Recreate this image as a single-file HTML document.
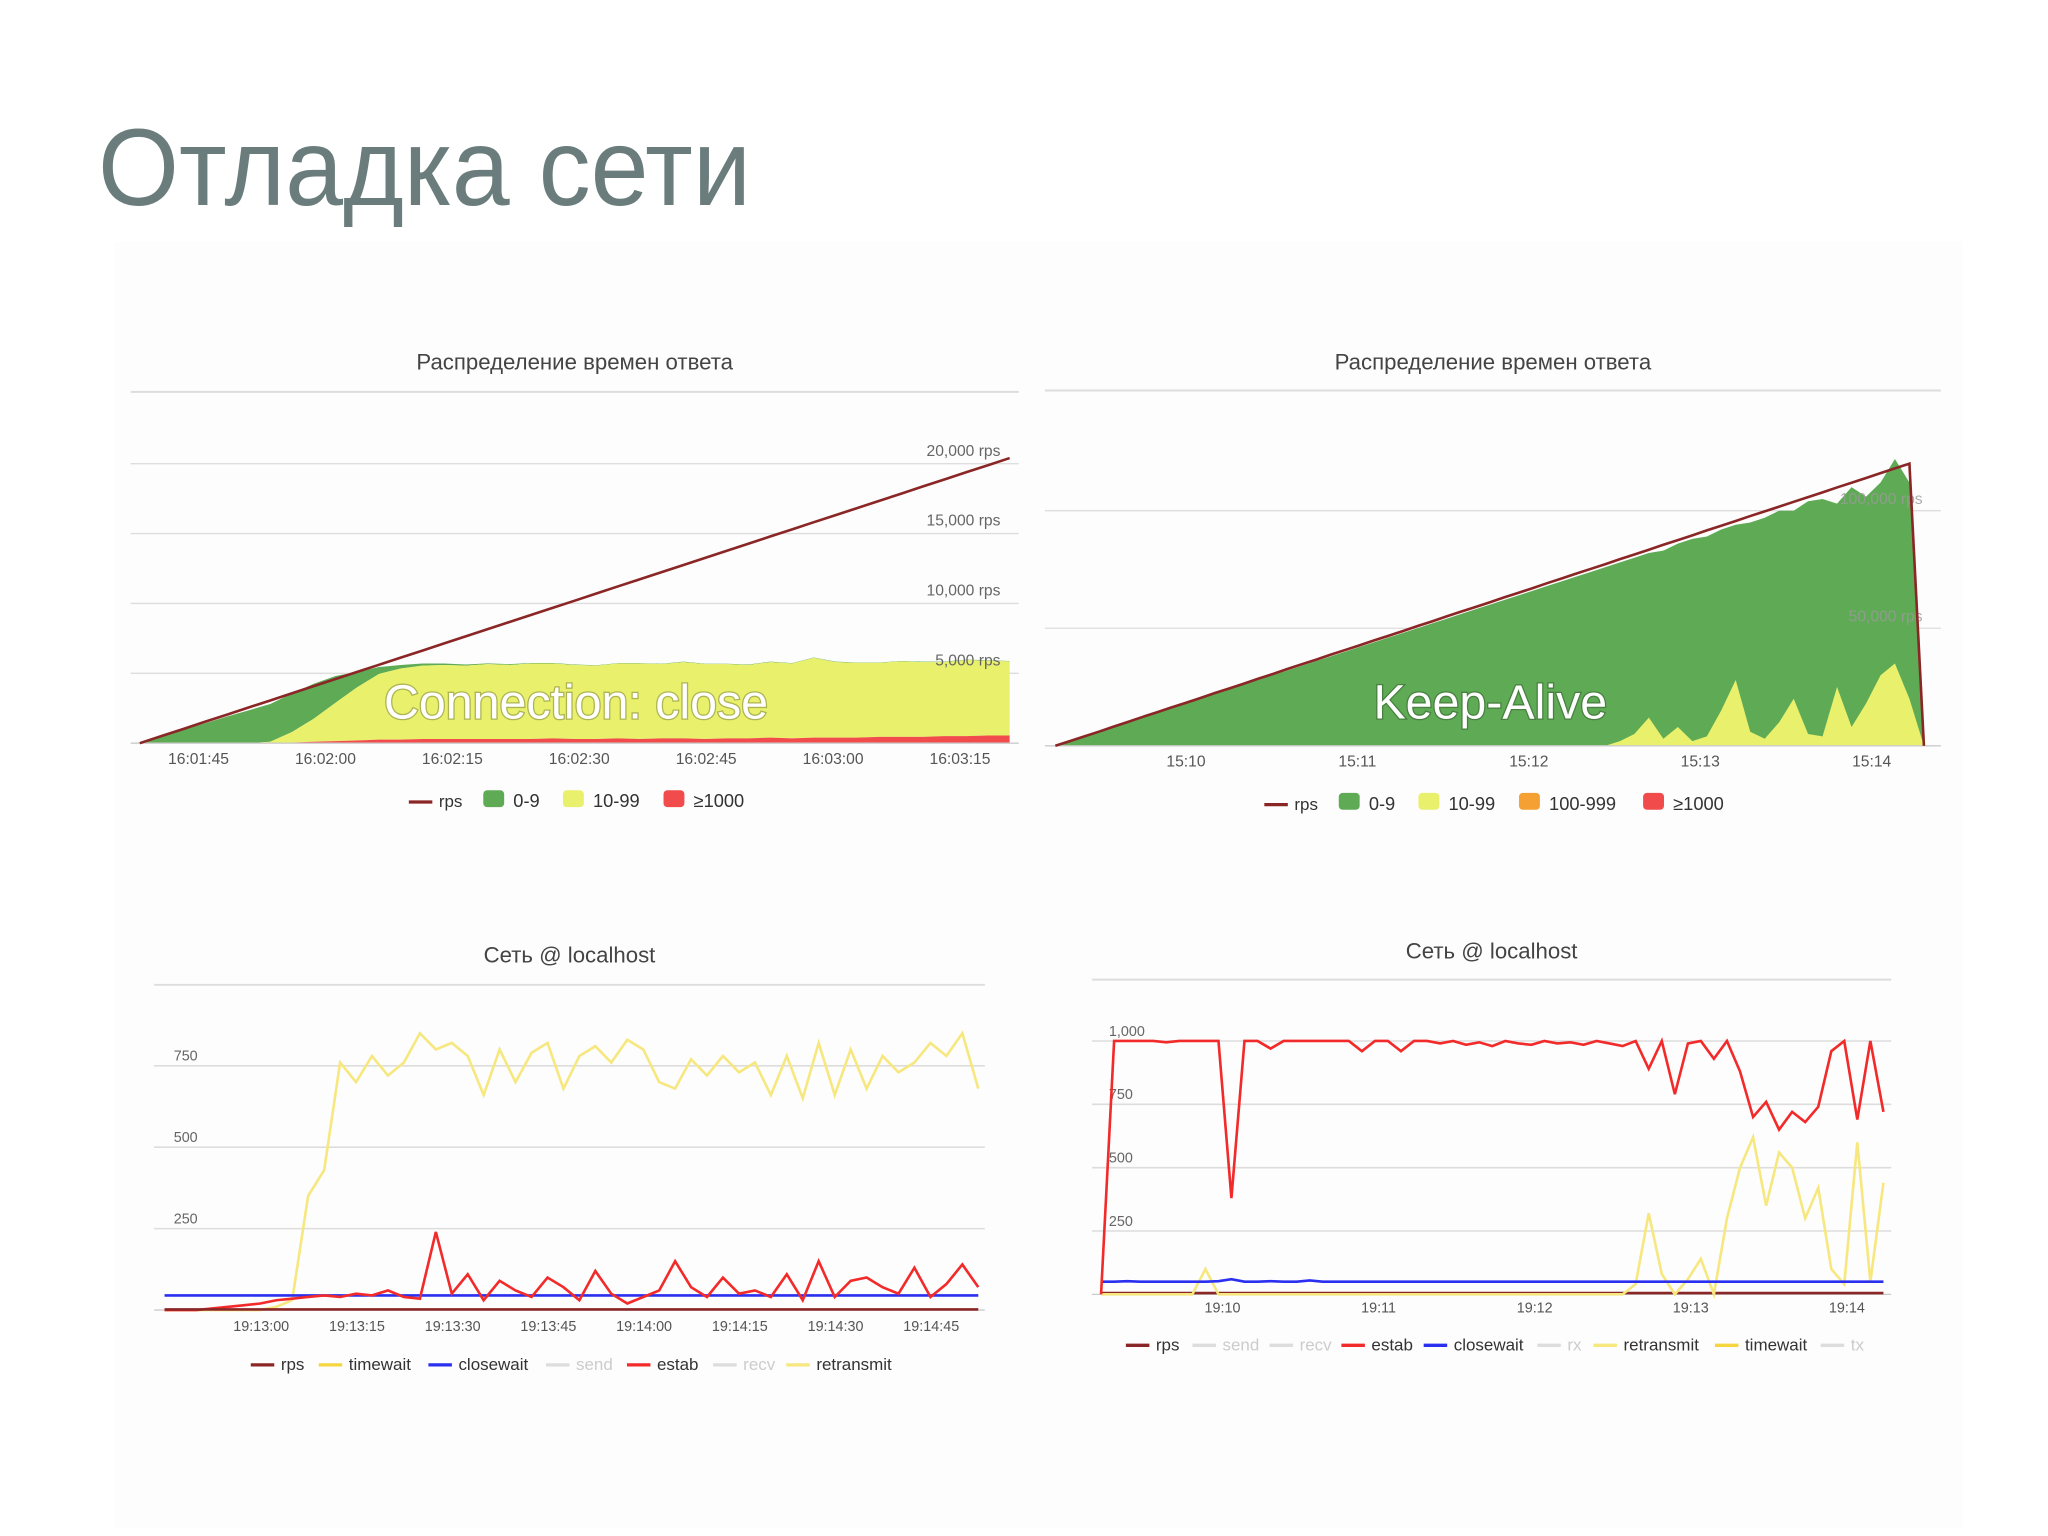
<!DOCTYPE html>
<html><head><meta charset="utf-8"><style>
html,body{margin:0;padding:0;background:#fff;}
svg{display:block;font-family:"Liberation Sans","DejaVu Sans",sans-serif;}
</style></head><body>
<svg id="root" width="2048" height="1536" viewBox="0 0 1568 1176" xmlns="http://www.w3.org/2000/svg">
<rect x="0" y="0" width="1568" height="1176" fill="#ffffff"/>
<rect x="88" y="185" width="1415" height="985" fill="#fdfdfd"/>
<text x="75" y="157" font-size="84" fill="#6a7d7c" textLength="500" lengthAdjust="spacingAndGlyphs">Отладка сети</text>
</svg>
<script>
// ===== Chart 1 data (Connection: close) =====
const c1Ticks = ['16:01:45','16:02:00','16:02:15','16:02:30','16:02:45','16:03:00','16:03:15'];
const c1YTicks = [5000,10000,15000,20000];
const c1YLabels = ['5,000 rps','10,000 rps','15,000 rps','20,000 rps'];
const c1Rps = [0,510,1020,1530,2040,2550,3060,3570,4080,4590,5100,5610,6120,6630,7140,7650,8160,8670,9180,9690,10200,10710,11220,11730,12240,12750,13260,13770,14280,14790,15300,15810,16320,16830,17340,17850,18360,18870,19380,19890,20400];
const c1Green = [0,480,960,1430,1900,2350,2700,2750,2500,1900,1100,500,250,150,100,80,60,50,40,40,30,30,30,30,30,30,30,30,30,30,30,30,30,30,30,30,30,30,30,30,30];
const c1Yellow = [0,0,0,0,0,0,100,750,1650,2750,3800,4700,5100,5250,5300,5250,5350,5300,5400,5350,5300,5250,5350,5400,5300,5450,5350,5300,5250,5400,5350,5700,5400,5350,5300,5400,5350,5300,5450,5350,5300];
const c1Red = [0,0,0,0,0,0,0,50,100,150,200,250,250,300,300,300,300,300,300,350,300,300,350,300,350,350,300,350,350,400,350,400,400,400,450,450,450,500,500,550,550];

// ===== Chart 2 data (Keep-Alive) =====
const c2Ticks = ['15:10','15:11','15:12','15:13','15:14'];
const c2YTicks = [50000,100000];
const c2YLabels = ['50,000 rps','100,000 rps'];
const c2Rps = [0,2000,4000,6000,8100,10100,12200,14200,16300,18300,20300,22400,24400,26400,28500,30500,32600,34600,36600,38700,40700,42700,44800,46800,48800,50900,52900,55000,57000,59000,61000,63100,65100,67100,69200,71200,73300,75300,77300,79400,81400,83400,85500,87500,89500,91600,93600,95600,97700,99700,101700,103800,105800,107800,109900,111900,113900,116000,118000,120000,0];
const c2Green = [0,2000,4000,6000,8000,10000,12000,14000,16000,18000,20000,22000,24000,26000,28000,30000,32000,34000,36000,38000,40000,42000,44000,46000,48000,50000,52000,54000,56000,58000,60000,62000,64000,66000,68000,70000,72000,74000,76000,78000,80000,82000,83000,86000,88000,89000,92000,94000,95000,97000,100000,100000,104000,105000,103000,110000,106000,112000,122000,112000,0];
const c2Yellow = [0,0,0,0,0,0,0,0,0,0,0,0,0,0,0,0,0,0,0,0,0,0,0,0,0,0,0,0,0,0,0,0,0,0,0,0,0,0,0,2000,5000,12000,3000,8000,2000,4000,15000,28000,6000,3000,10000,20000,5000,4000,25000,8000,18000,30000,35000,20000,0];

// ===== Chart 3 data (network, connection close) =====
const c3Ticks = ['19:13:00','19:13:15','19:13:30','19:13:45','19:14:00','19:14:15','19:14:30','19:14:45'];
const c3YTicks = [250,500,750];
const c3Retransmit = [0,0,0,0,0,0,0,10,30,350,430,760,700,780,720,760,850,800,820,780,660,800,700,790,820,680,780,810,760,830,800,700,680,770,720,780,730,760,660,780,650,820,660,800,680,780,730,760,820,780,850,680];
const c3Estab = [0,0,0,5,10,15,20,30,35,40,45,40,50,45,60,40,35,240,50,110,30,90,60,40,100,70,30,120,50,20,40,60,150,70,40,100,50,60,40,110,30,150,40,90,100,70,50,130,40,80,140,70];
const c3Closewait = [45,45,45,45,45,45,45,45,45,45,45,45,45,45];
const c3Rps = [2,2,2,2];

// ===== Chart 4 data (network, keep-alive) =====
const c4Ticks = ['19:10','19:11','19:12','19:13','19:14'];
const c4YTicks = [250,500,750,1000];
const c4YLabels = ['250','500','750','1,000'];
const c4Estab = [0,1000,1000,1000,1000,995,1000,1000,1000,1000,380,1000,1000,970,1000,1000,1000,1000,1000,1000,960,1000,1000,960,1000,1000,990,1000,985,995,980,1000,990,985,1000,990,995,985,1000,990,980,1000,890,1000,790,990,1000,930,1000,880,700,760,650,720,680,740,960,1000,690,1000,720];
const c4Closewait = [50,50,52,50,50,50,50,50,50,52,60,50,50,52,50,50,55,50,50,50,50,50,50,50,50,50,50,50,50,50,50,50,50,50,50,50,50,50,50,50,50,50,50,50,50,50,50,50,50,50,50,50,50,50,50,50,50,50,50,50,50];
const c4Retransmit = [0,0,0,0,0,0,0,0,100,0,0,0,0,0,0,0,0,0,0,0,0,0,0,0,0,0,0,0,0,0,0,0,0,0,0,0,0,0,0,0,0,40,320,80,0,60,140,0,300,500,620,350,560,500,300,420,100,40,600,50,440];

const NS='http://www.w3.org/2000/svg';
const root=document.getElementById('root');
function mk(tag,attrs,parent){const e=document.createElementNS(NS,tag);for(const k in attrs)e.setAttribute(k,attrs[k]);(parent||root).appendChild(e);return e;}
function lin(d0,d1,r0,r1){return v=>r0+(v-d0)*(r1-r0)/(d1-d0);}
function seriesX(n,x0,x1){return i=>x0+i*(x1-x0)/(n-1);}
function linePath(vals,xf,yf){return vals.map((v,i)=>(i?'L':'M')+xf(i).toFixed(1)+','+yf(v).toFixed(1)).join('');}
function areaPath(top,bot,xf,yf){let d=top.map((v,i)=>(i?'L':'M')+xf(i).toFixed(1)+','+yf(v).toFixed(1)).join('');for(let i=bot.length-1;i>=0;i--)d+='L'+xf(i).toFixed(1)+','+yf(bot[i]).toFixed(1);return d+'Z';}
function txt(x,y,s,size,fill,anchor,parent){const t=mk('text',{x:x,y:y,'font-size':size,fill:fill,'text-anchor':anchor||'start'},parent);t.textContent=s;return t;}
function legendLine(x,y,color,label,textColor,g){
  const l=mk('line',{x1:x,y1:y-4,x2:x+18,y2:y-4,stroke:color,'stroke-width':2.5},g);
  
  
  const t=txt(x+23,y,label,13,textColor||'#333','start',g);
  
  
}
function legendBox(x,y,color,label,g){
  const r=mk('rect',{x:x,y:y-13,width:16,height:13,rx:3,fill:color},g);
  
  
  const t=txt(x+23,y,label,14,'#333','start',g);
  
  
}

// ===== Chart 1 =====
(function(){
  const g=mk('g',{});
  
  
  const t=txt(440,283,'Распределение времен ответа',17,'#444','middle',g);
  
  
  mk('line',{x1:100,y1:300,x2:780,y2:300,stroke:'#ddd','stroke-width':1.5},g);
  const yf=lin(0,20000,569,355);
  c1YTicks.forEach((v,i)=>{
    const gl=mk('line',{x1:100,y1:yf(v),x2:780,y2:yf(v),stroke:'#ddd','stroke-width':1},g);
    
    
  });
  const xf=seriesX(c1Rps.length,107,773);
  const s1=c1Red, s2=c1Red.map((v,i)=>v+c1Yellow[i]), s3=s2.map((v,i)=>v+c1Green[i]);
  const zero=c1Red.map(()=>0);
  const ag=mk('path',{d:areaPath(s3,s2,xf,yf),fill:'#5fab55'},g);
  
  
  const ay=mk('path',{d:areaPath(s2,s1,xf,yf),fill:'#e8f06c'},g);
  
  
  const ar=mk('path',{d:areaPath(s1,zero,xf,yf),fill:'#f24b4b'},g);
  
  
  c1YTicks.forEach((v,i)=>{
    const lb=txt(766,yf(v)-6,c1YLabels[i],12,'#666','end',g);
    
    
  });
  mk('line',{x1:100,y1:569,x2:780,y2:569,stroke:'#ccc','stroke-width':1},g);
  const lr=mk('path',{d:linePath(c1Rps,xf,yf),fill:'none',stroke:'#8b2626','stroke-width':2},g);
  
  
  const tx=lin(0,6,152,735);
  c1Ticks.forEach((s,i)=>{const l=txt(tx(i),585,s,12,'#555','middle',g);
    
    });
  const ov=txt(441,550,'Connection: close',37,'#ffffff','middle',g);
  ov.setAttribute('stroke','rgba(0,0,0,0.25)');ov.setAttribute('stroke-width','2');ov.setAttribute('paint-order','stroke');
  
  
  legendLine(313,618,'#8b2626','rps','#333',g);
  legendBox(370,618,'#5fab55','0-9',g);
  legendBox(431,618,'#e8f06c','10-99',g);
  legendBox(508,618,'#f24b4b','≥1000',g);
})();

// ===== Chart 2 =====
(function(){
  const g=mk('g',{});
  
  
  const t=txt(1143,283,'Распределение времен ответа',17,'#444','middle',g);
  
  
  mk('line',{x1:800,y1:299,x2:1486,y2:299,stroke:'#ddd','stroke-width':1.5},g);
  const yf=lin(0,100000,571,391);
  const xf=seriesX(c2Rps.length,808,1473);
  c2YTicks.forEach((v,i)=>{
    const gl=mk('line',{x1:800,y1:yf(v),x2:1486,y2:yf(v),stroke:'#ddd','stroke-width':1},g);
    
    
  });
  const zero=c2Rps.map(()=>0);
  const ag=mk('path',{d:areaPath(c2Green,zero,xf,yf),fill:'#5fab55'},g);
  
  
  const ay=mk('path',{d:areaPath(c2Yellow,zero,xf,yf),fill:'#e8f06c'},g);
  
  
  c2YTicks.forEach((v,i)=>{
    const lb=txt(1472,yf(v)-5,c2YLabels[i],12,'#9a9a9a','end',g);
    lb.setAttribute('opacity','0.8');
    
    
  });
  mk('line',{x1:800,y1:571,x2:1486,y2:571,stroke:'#ccc','stroke-width':1},g);
  const lr=mk('path',{d:linePath(c2Rps,xf,yf),fill:'none',stroke:'#8b2626','stroke-width':2},g);
  
  
  const tx=lin(0,4,908,1433);
  c2Ticks.forEach((s,i)=>{const l=txt(tx(i),587,s,12,'#555','middle',g);
    
    });
  const ov=txt(1141,550,'Keep-Alive',37,'#ffffff','middle',g);
  ov.setAttribute('stroke','rgba(0,0,0,0.25)');ov.setAttribute('stroke-width','2');ov.setAttribute('paint-order','stroke');
  
  
  legendLine(968,620,'#8b2626','rps','#333',g);
  legendBox(1025,620,'#5fab55','0-9',g);
  legendBox(1086,620,'#e8f06c','10-99',g);
  legendBox(1163,620,'#f5a032','100-999',g);
  legendBox(1258,620,'#f24b4b','≥1000',g);
})();

// ===== Chart 3 =====
(function(){
  const g=mk('g',{});
  
  
  const t=txt(436,737,'Сеть @ localhost',17,'#444','middle',g);
  
  
  mk('line',{x1:118,y1:754,x2:754,y2:754,stroke:'#ddd','stroke-width':1.5},g);
  const yf=lin(0,750,1003,816);
  c3YTicks.forEach(v=>{
    const gl=mk('line',{x1:118,y1:yf(v),x2:754,y2:yf(v),stroke:'#ddd','stroke-width':1.2},g);
    
    
    const lb=txt(133,yf(v)-4,String(v),11,'#666','start',g);
    
    
  });
  mk('line',{x1:118,y1:1003,x2:754,y2:1003,stroke:'#ccc','stroke-width':1},g);
  const x0=126,x1=749;
  const ly=mk('path',{d:linePath(c3Retransmit,seriesX(c3Retransmit.length,x0,x1),yf),fill:'none',stroke:'#f7e77f','stroke-width':2},g);
  
  
  const lb=mk('path',{d:linePath(c3Closewait,seriesX(c3Closewait.length,x0,x1),yf),fill:'none',stroke:'#2a2ff0','stroke-width':2},g);
  
  
  const le=mk('path',{d:linePath(c3Estab,seriesX(c3Estab.length,x0,x1),yf),fill:'none',stroke:'#f22a2a','stroke-width':2},g);
  
  
  const lr=mk('path',{d:linePath(c3Rps,seriesX(c3Rps.length,x0,x1),yf),fill:'none',stroke:'#8b2626','stroke-width':2},g);
  
  
  const tx=lin(0,7,200,713);
  c3Ticks.forEach((s,i)=>{const l=txt(tx(i),1019,s,11,'#555','middle',g);
    
    });
  legendLine(192,1049,'#8b2626','rps','#333',g);
  legendLine(244,1049,'#f5d640','timewait','#333',g);
  legendLine(328,1049,'#2a2ff0','closewait','#333',g);
  legendLine(418,1049,'#ddd','send','#ccc',g);
  legendLine(480,1049,'#f22a2a','estab','#333',g);
  legendLine(546,1049,'#ddd','recv','#ccc',g);
  legendLine(602,1049,'#f7e77f','retransmit','#333',g);
})();

// ===== Chart 4 =====
(function(){
  const g=mk('g',{});
  
  
  const t=txt(1142,734,'Сеть @ localhost',17,'#444','middle',g);
  
  
  mk('line',{x1:836,y1:750,x2:1448,y2:750,stroke:'#ddd','stroke-width':1.5},g);
  const yf=lin(0,1000,991,797);
  c4YTicks.forEach((v,i)=>{
    const gl=mk('line',{x1:836,y1:yf(v),x2:1448,y2:yf(v),stroke:'#ddd','stroke-width':1.2},g);
    
    
    const lb=txt(849,yf(v)-4,c4YLabels[i],11,'#666','start',g);
    
    
  });
  mk('line',{x1:836,y1:991,x2:1448,y2:991,stroke:'#ccc','stroke-width':1},g);
  mk('line',{x1:843,y1:990,x2:1442,y2:990,stroke:'#8b2626','stroke-width':2},g);
  const x0=843,x1=1442;
  const ly=mk('path',{d:linePath(c4Retransmit,seriesX(c4Retransmit.length,x0,x1),yf),fill:'none',stroke:'#f7e77f','stroke-width':2},g);
  
  
  const lb=mk('path',{d:linePath(c4Closewait,seriesX(c4Closewait.length,x0,x1),yf),fill:'none',stroke:'#2a2ff0','stroke-width':2},g);
  
  
  const le=mk('path',{d:linePath(c4Estab,seriesX(c4Estab.length,x0,x1),yf),fill:'none',stroke:'#f22a2a','stroke-width':2},g);
  
  
  const tx=lin(0,4,936,1414);
  c4Ticks.forEach((s,i)=>{const l=txt(tx(i),1005,s,11,'#555','middle',g);
    
    });
  legendLine(862,1034,'#8b2626','rps','#333',g);
  legendLine(913,1034,'#ddd','send','#ccc',g);
  legendLine(972,1034,'#ddd','recv','#ccc',g);
  legendLine(1027,1034,'#f22a2a','estab','#333',g);
  legendLine(1090,1034,'#2a2ff0','closewait','#333',g);
  legendLine(1177,1034,'#ddd','rx','#ccc',g);
  legendLine(1220,1034,'#f7e77f','retransmit','#333',g);
  legendLine(1313,1034,'#f5d640','timewait','#333',g);
  legendLine(1394,1034,'#ddd','tx','#ccc',g);
})();
</script>
</body></html>
